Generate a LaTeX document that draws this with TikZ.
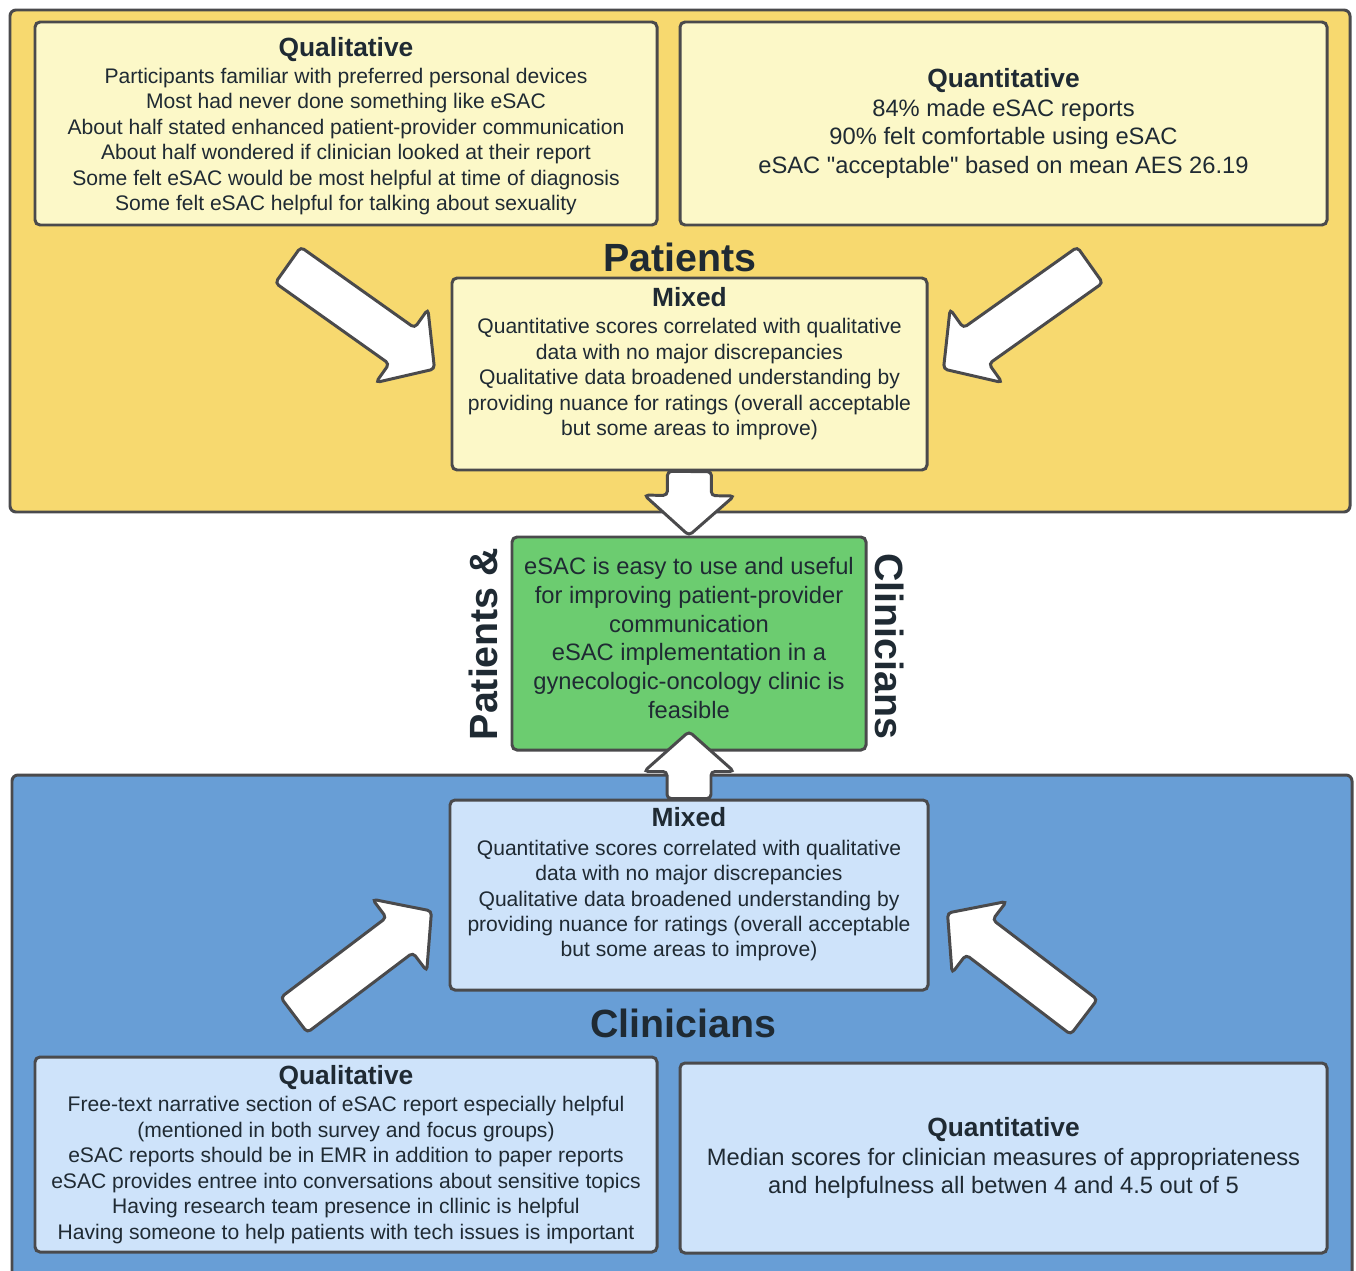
\documentclass[tikz,border=0pt]{standalone}
\usepackage{fontspec}
\setmainfont{Liberation Sans}[Ligatures=TeXOff]
\usetikzlibrary{positioning,calc}

\newlength\px
\setlength\px{0.02cm}

\definecolor{patyellow}{HTML}{F7D96F}
\definecolor{patlight}{HTML}{FCF8C8}
\definecolor{clinblue}{HTML}{689ED6}
\definecolor{clinlight}{HTML}{CEE3FA}
\definecolor{resgreen}{HTML}{6CCC70}
\definecolor{linegray}{HTML}{4A4A4C}
\definecolor{ink}{HTML}{1F2A33}

\pgfdeclarelayer{frames}
\pgfdeclarelayer{arrows}
\pgfsetlayers{frames,arrows,main}

\tikzset{%
  frame/.style    = {draw=linegray, line width=1.7pt, rounded corners=6*\px, inner sep=0pt},
  block/.style    = {draw=linegray, line width=1.7pt, rounded corners=5*\px, inner sep=0pt,
    align=center, text=ink, font=\fontsize{12}{14.5}\selectfont},
  bigblock/.style = {block, font=\fontsize{13.5}{16.4}\selectfont},
  mixtext/.style  = {align=center, text=ink, inner sep=0pt, font=\fontsize{12}{14.5}\selectfont},
  restext/.style  = {mixtext, font=\fontsize{13.5}{16.4}\selectfont},
  heading/.style  = {text=ink, inner sep=0pt, font=\bfseries\fontsize{22.4}{26}\selectfont},
  fatarrow/.style = {draw=linegray, line width=1.7pt, fill=white, rounded corners=4*\px}
}

\newcommand{\boxtitle}[1]{{\bfseries\fontsize{15}{18}\selectfont #1}}
% broad arrow from #1 (tail) to #2 (tip)
\newcommand{\fatarrow}[2]{%
  \coordinate (fa-h) at ($(#2)!0.8cm!(#1)$);
  \draw[fatarrow] ($(#1)!0.44cm!90:(#2)$) -- ($(fa-h)!0.44cm!-90:(#1)$)
    -- ($(fa-h)!0.9cm!-90:(#1)$) -- (#2) -- ($(fa-h)!0.9cm!90:(#1)$)
    -- ($(fa-h)!0.44cm!90:(#1)$) -- ($(#1)!0.44cm!-90:(#2)$) -- cycle;}

\begin{document}
\begin{tikzpicture}[x=1\px, y=-1\px]
  \useasboundingbox (0,0) rectangle (1356,1271);

  % patients
  \node[block, fill=patlight, minimum width=622*\px, minimum height=203*\px] (pqual) at (346,123.5) {};
  \node[mixtext] (pqualtext) at ($(pqual.center)+(0,3)$)
    {\boxtitle{Qualitative}\\[0.5pt]
     Participants familiar with preferred personal devices\\
     Most had never done something like eSAC\\
     About half stated enhanced patient-provider communication\\
     About half wondered if clinician looked at their report\\
     Some felt eSAC would be most helpful at time of diagnosis\\
     Some felt eSAC helpful for talking about sexuality};
  \node[bigblock, fill=patlight, minimum width=647*\px, minimum height=203*\px] (pquant) at (1003.5,123.5)
    {\boxtitle{Quantitative}\\
     84\% made eSAC reports\\
     90\% felt comfortable using eSAC\\
     eSAC "acceptable" based on mean AES 26.19};
  \node[heading, anchor=base] (pathead) at (680,271) {Patients};
  \node[block, fill=patlight, minimum width=475*\px, minimum height=192*\px] (pmix) at (689.5,374) {};
  \node[mixtext, anchor=north] (pmixtext) at ($(pmix.north)+(0,10.5)$)
    {\boxtitle{Mixed}\\[1pt]
     Quantitative scores correlated with qualitative\\
     data with no major discrepancies\\
     Qualitative data broadened understanding by\\
     providing nuance for ratings (overall acceptable\\
     but some areas to improve)};

  % clinicians
  \node[block, fill=clinlight, minimum width=478*\px, minimum height=190*\px] (cmix) at (689,895) {};
  \node[mixtext, anchor=north] (cmixtext) at ($(cmix.north)+(0,9)$)
    {\boxtitle{Mixed}\\[1.5pt]
     Quantitative scores correlated with qualitative\\
     data with no major discrepancies\\
     Qualitative data broadened understanding by\\
     providing nuance for ratings (overall acceptable\\
     but some areas to improve)};
  \node[heading, anchor=base] (clinhead) at (683,1037) {Clinicians};
  \node[block, fill=clinlight, minimum width=622*\px, minimum height=195*\px] (cqual) at (346,1154.5)
    {\boxtitle{Qualitative}\\[1pt]
     Free-text narrative section of eSAC report especially helpful\\
     (mentioned in both survey and focus groups)\\
     eSAC reports should be in EMR in addition to paper reports\\
     eSAC provides entree into conversations about sensitive topics\\
     Having research team presence in cllinic is helpful\\
     Having someone to help patients with tech issues is important};
  \node[bigblock, fill=clinlight, minimum width=647*\px, minimum height=190*\px] (cquant) at (1003.5,1158)
    {\boxtitle{Quantitative}\\
     Median scores for clinician measures of appropriateness\\
     and helpfulness all betwen 4 and 4.5 out of 5};

  % both groups
  \node[heading, rotate=90] (bothleft) at (483,644) {Patients \&};
  \node[heading, rotate=-90] (bothright) at (890,646) {Clinicians};

  \begin{pgfonlayer}{frames}
    \node[frame, fill=patyellow, minimum width=1340*\px, minimum height=502*\px] (patframe) at (680,261) {};
    \node[frame, fill=clinblue, minimum width=1340*\px, minimum height=530*\px] (clinframe) at (682,1040) {};
    \node[block, fill=resgreen, minimum width=354*\px, minimum height=213*\px] (result) at (689,643.5) {};
    \node[restext] (resulttext) at ($(result.center)+(0,-5.5)$)
      {eSAC is easy to use and useful\\
       for improving patient-provider\\
       communication\\
       eSAC implementation in a\\
       gynecologic-oncology clinic is\\
       feasible};
  \end{pgfonlayer}

  \begin{pgfonlayer}{arrows}
    \coordinate (pqualtail) at (288,265);
    \coordinate (pquanttail) at (1090,265);
    \coordinate (cqualtail) at (294,1015);
    \coordinate (cquanttail) at (1084,1017);
    \coordinate (pmixin1) at ($(pmix.west)+(-16,-5)$);
    \coordinate (pmixin2) at ($(pmix.east)+(15,-5)$);
    \coordinate (cmixin1) at ($(cmix.west)+(-17,16)$);
    \coordinate (cmixin2) at ($(cmix.east)+(18,18)$);
    \coordinate (resultin) at ($(result.south)+(0,-20)$);
    \fatarrow{pqualtail}{pmixin1}
    \fatarrow{pquanttail}{pmixin2}
    \fatarrow{pmix.south}{result.north}
    \fatarrow{cmix.north}{resultin}
    \fatarrow{cqualtail}{cmixin1}
    \fatarrow{cquanttail}{cmixin2}
  \end{pgfonlayer}
\end{tikzpicture}
\end{document}
